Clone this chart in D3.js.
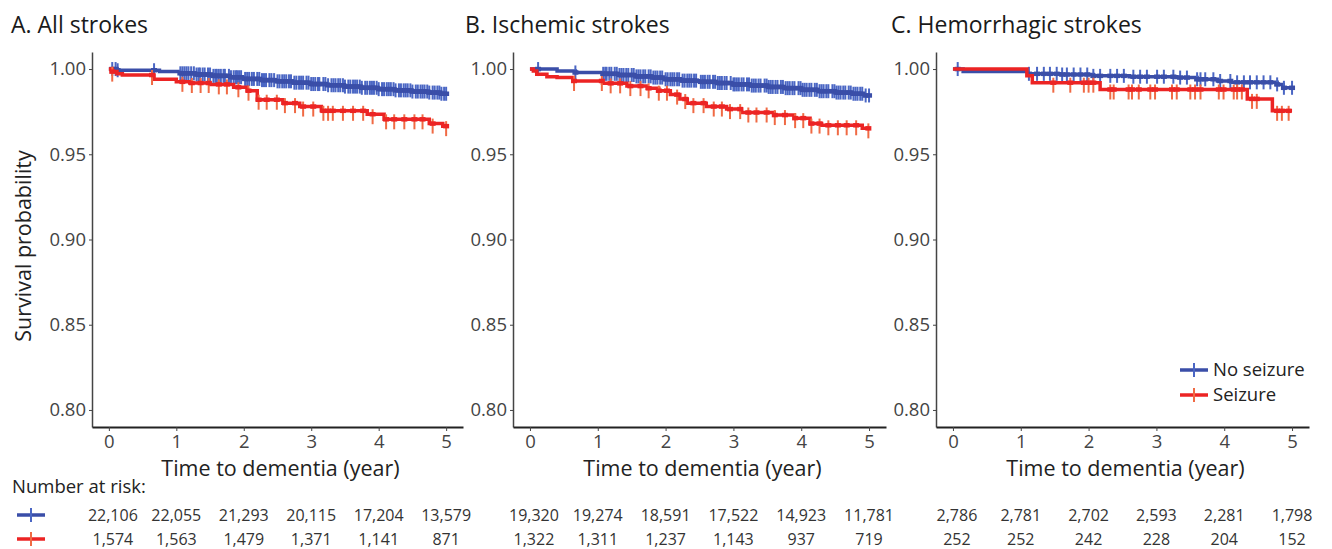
<!DOCTYPE html>
<html>
<head>
<meta charset="utf-8">
<script src="https://cdn.jsdelivr.net/npm/d3@7"></script>
<style>
  body { margin: 0; background: #fff; }
  svg { display: block; font-family: "Open Sans", "Noto Sans", sans-serif; }
</style>
</head>
<body>
<svg id="km" width="1332" height="549"></svg>
<script>
// panel titles and risk table
var panelTitles = ["A. All strokes", "B. Ischemic strokes", "C. Hemorrhagic strokes"];
var riskTimes = [0, 1, 2, 3, 4, 5];
var riskNoSeizure = [
  ["22,106", "22,055", "21,293", "20,115", "17,204", "13,579"],
  ["19,320", "19,274", "18,591", "17,522", "14,923", "11,781"],
  ["2,786", "2,781", "2,702", "2,593", "2,281", "1,798"]
];
var riskSeizure = [
  ["1,574", "1,563", "1,479", "1,371", "1,141", "871"],
  ["1,322", "1,311", "1,237", "1,143", "937", "719"],
  ["252", "252", "242", "228", "204", "152"]
];
var yTicks = [0.80, 0.85, 0.90, 0.95, 1.00];
var xTicks = [0, 1, 2, 3, 4, 5];

// KM steps [time, survival]
var noSeizureA = [[0,1],[0.12,0.9993],[0.75,0.9985],[1.05,0.9975],[1.3,0.9968],[1.55,0.996],[1.8,0.9952],[2.0,0.9942],[2.25,0.9935],[2.5,0.9928],[2.75,0.992],[3.0,0.9912],[3.25,0.9905],[3.5,0.9897],[3.75,0.989],[4.0,0.9882],[4.25,0.9875],[4.5,0.9868],[4.75,0.9862],[4.92,0.9855],[5,0.9855]];
var seizureA = [[0,1],[0.05,0.9985],[0.12,0.9972],[0.2,0.9965],[0.67,0.994],[1.0,0.9925],[1.2,0.9918],[1.5,0.991],[1.85,0.9893],[2.05,0.9873],[2.2,0.982],[2.58,0.98],[2.83,0.978],[3.15,0.9755],[3.83,0.9735],[4.08,0.9705],[4.75,0.968],[4.95,0.9665],[5,0.9665]];
var noSeizureB = [[0,1],[0.4,0.9988],[0.67,0.998],[1.08,0.9972],[1.3,0.9965],[1.55,0.9957],[1.8,0.995],[2.0,0.994],[2.25,0.9932],[2.5,0.9925],[2.75,0.9918],[3.0,0.991],[3.25,0.9903],[3.5,0.9895],[3.75,0.9888],[4.0,0.9878],[4.25,0.987],[4.5,0.9862],[4.75,0.9855],[4.92,0.9845],[5,0.9845]];
var seizureB = [[0,1],[0.05,0.9988],[0.1,0.997],[0.25,0.9955],[0.4,0.995],[0.64,0.993],[1.07,0.9916],[1.43,0.99],[1.73,0.9887],[1.9,0.9873],[2.07,0.985],[2.21,0.9824],[2.32,0.98],[2.6,0.978],[2.9,0.9765],[3.12,0.9745],[3.6,0.973],[3.9,0.9712],[4.13,0.968],[4.3,0.967],[4.9,0.9652],[5,0.9652]];
var noSeizureC = [[0,1],[0.15,0.9985],[1.1,0.9972],[1.6,0.9968],[2.07,0.996],[2.6,0.9955],[3.3,0.995],[3.6,0.994],[3.9,0.993],[4.1,0.9922],[4.78,0.991],[4.87,0.989],[5,0.989]];
var seizureC = [[0,1],[1.09,0.996],[1.17,0.992],[2.17,0.988],[4.34,0.9825],[4.71,0.9755],[5,0.9755]];

// censoring times
var censorNoSeizureA = [0.05,0.1,0.13,0.67,1.06,1.09,1.12,1.15,1.18,1.22,1.26,1.3,1.33,1.35,1.39,1.42,1.47,1.5,1.55,1.58,1.6,1.63,1.66,1.7,1.72,1.78,1.81,1.85,1.88,1.9,1.93,1.96,2.02,2.05,2.08,2.12,2.15,2.2,2.23,2.27,2.3,2.33,2.38,2.41,2.45,2.5,2.53,2.57,2.6,2.63,2.67,2.7,2.75,2.78,2.82,2.85,2.88,2.93,2.96,3.0,3.03,3.06,3.1,3.12,3.18,3.21,3.25,3.3,3.33,3.36,3.4,3.43,3.47,3.5,3.55,3.58,3.62,3.65,3.68,3.72,3.75,3.8,3.83,3.87,3.9,3.93,3.97,4.0,4.05,4.08,4.12,4.15,4.18,4.22,4.25,4.3,4.33,4.37,4.4,4.43,4.47,4.5,4.55,4.58,4.62,4.65,4.68,4.72,4.75,4.8,4.83,4.87,4.9,4.93,4.97,5.0];
var censorSeizureA = [0.05,0.64,1.09,1.23,1.36,1.48,1.63,1.75,1.92,2.07,2.22,2.34,2.49,2.61,2.76,2.88,3.03,3.18,3.25,3.32,3.47,3.62,3.77,3.91,4.11,4.23,4.38,4.53,4.65,4.8,5.0];
var censorNoSeizureB = [0.12,0.67,1.08,1.11,1.13,1.17,1.2,1.25,1.28,1.32,1.35,1.38,1.42,1.45,1.5,1.53,1.57,1.6,1.63,1.67,1.7,1.75,1.78,1.82,1.85,1.88,1.92,1.95,2.0,2.03,2.07,2.1,2.13,2.17,2.2,2.25,2.28,2.32,2.35,2.38,2.42,2.45,2.52,2.55,2.58,2.62,2.65,2.7,2.73,2.77,2.8,2.83,2.87,2.9,2.96,3.0,3.02,3.05,3.08,3.12,3.15,3.2,3.23,3.27,3.3,3.33,3.37,3.4,3.46,3.49,3.52,3.55,3.58,3.62,3.65,3.7,3.73,3.77,3.8,3.83,3.87,3.9,3.96,3.99,4.02,4.05,4.08,4.12,4.15,4.2,4.23,4.27,4.3,4.33,4.37,4.4,4.46,4.49,4.52,4.55,4.58,4.62,4.65,4.7,4.73,4.77,4.8,4.83,4.87,4.9,4.95,5.0];
var censorSeizureB = [0.65,1.06,1.19,1.33,1.48,1.63,1.75,1.9,2.02,2.17,2.29,2.41,2.56,2.71,2.83,2.95,3.1,3.22,3.34,3.49,3.61,3.76,3.91,4.03,4.15,4.27,4.4,4.54,4.67,4.81,4.99];
var censorNoSeizureC = [0.07,1.12,1.24,1.34,1.43,1.53,1.61,1.68,1.78,1.88,1.98,2.07,2.17,2.32,2.42,2.52,2.66,2.76,2.86,3.01,3.11,3.25,3.35,3.45,3.6,3.65,3.72,3.84,3.94,4.09,4.19,4.29,4.38,4.48,4.58,4.68,4.78,4.88,5.0];
var censorSeizureC = [1.48,1.73,1.93,2.0,2.07,2.32,2.37,2.59,2.64,2.74,2.91,2.98,3.23,3.3,3.5,3.57,3.65,3.92,3.99,4.14,4.19,4.26,4.41,4.48,4.78,4.85,4.95];

var panels = [
  {title: panelTitles[0], blue: noSeizureA, red: seizureA, cb: censorNoSeizureA, cr: censorSeizureA, x0: 92, x1: 463, tx: 11},
  {title: panelTitles[1], blue: noSeizureB, red: seizureB, cb: censorNoSeizureB, cr: censorSeizureB, x0: 513, x1: 886, tx: 465},
  {title: panelTitles[2], blue: noSeizureC, red: seizureC, cb: censorNoSeizureC, cr: censorSeizureC, x0: 936, x1: 1309, tx: 891}
];

var blueLine = "#3a4ea8", blueMark = "#4a66c4";
var redLine = "#ec2424", redMark = "#f06a44";
var svg = d3.select("#km");
var plotTop = 52, plotBottom = 427;

var y = d3.scaleLinear().domain([0.79, 1.01]).range([plotBottom, plotTop]);

function stepValue(steps, t) {
  var v = steps[0][1];
  for (var i = 0; i < steps.length; i++) {
    if (steps[i][0] <= t) v = steps[i][1];
  }
  return v;
}

panels.forEach(function(p, pi) {
  var x = d3.scaleLinear().domain([-0.25, 5.25]).range([p.x0, p.x1]);
  var g = svg.append("g");

  // title
  svg.append("text").attr("x", p.tx).attr("y", 33)
    .style("font-size", "23px").style("fill", "#1a1a1a").text(p.title);

  // y axis
  var ya = g.append("g").attr("transform", "translate(" + p.x0 + ",0)")
    .call(d3.axisLeft(y).tickValues(yTicks).tickFormat(d3.format(".2f")).tickSize(3).tickSizeOuter(0).tickPadding(3));
  ya.select(".domain").attr("stroke", "#444").attr("stroke-width", 1.5);
  ya.selectAll(".tick line").attr("stroke", "#444");
  ya.selectAll("text").style("font-size", "18.5px").style("fill", "#444").style("font-family", "Open Sans");

  // x axis
  var xa = g.append("g").attr("transform", "translate(0," + plotBottom + ")")
    .call(d3.axisBottom(x).tickValues(xTicks).tickFormat(d3.format("d")).tickSize(4).tickSizeOuter(0).tickPadding(4));
  xa.select(".domain").attr("stroke", "#222").attr("stroke-width", 2);
  xa.selectAll(".tick line").attr("stroke", "#444");
  xa.selectAll("text").style("font-size", "18.5px").style("fill", "#444").style("font-family", "Open Sans");

  // x title
  svg.append("text").attr("x", (p.x0 + p.x1) / 2 + 3).attr("y", 476)
    .attr("text-anchor", "middle").style("font-size", "21.5px").style("fill", "#222")
    .text("Time to dementia (year)");

  var line = d3.line().x(function(d) { return x(d[0]); }).y(function(d) { return y(d[1]); })
    .curve(d3.curveStepAfter);

  [[p.blue, p.cb, blueLine, blueMark, -7, 7], [p.red, p.cr, redLine, redMark, -5, 10]].forEach(function(s) {
    g.append("path").datum(s[0]).attr("d", line)
      .attr("fill", "none").attr("stroke", s[2]).attr("stroke-width", 3.5);
    g.selectAll(null).data(s[1]).enter().append("line")
      .attr("x1", function(d) { return x(d); }).attr("x2", function(d) { return x(d); })
      .attr("y1", function(d) { return y(stepValue(s[0], d)) + s[4]; })
      .attr("y2", function(d) { return y(stepValue(s[0], d)) + s[5]; })
      .attr("stroke", s[3]).attr("stroke-width", 2);
    // small horizontal bar of each "+" mark
    g.selectAll(null).data(s[1]).enter().append("line")
      .attr("x1", function(d) { return x(d) - 3; }).attr("x2", function(d) { return x(d) + 3; })
      .attr("y1", function(d) { return y(stepValue(s[0], d)); })
      .attr("y2", function(d) { return y(stepValue(s[0], d)); })
      .attr("stroke", s[2]).attr("stroke-width", 4.5);
  });

  // risk table numbers
  riskTimes.forEach(function(t, i) {
    svg.append("text").attr("x", x(t) + (i == 0 ? 4 : 0)).attr("y", 521)
      .attr("text-anchor", "middle").style("font-size", "16px").style("fill", "#333")
      .text(riskNoSeizure[pi][i]);
    svg.append("text").attr("x", x(t) + (i == 0 ? 4 : 0)).attr("y", 545)
      .attr("text-anchor", "middle").style("font-size", "16px").style("fill", "#333")
      .text(riskSeizure[pi][i]);
  });
});

// y label
svg.append("text").attr("transform", "translate(31,246) rotate(-90)")
  .attr("text-anchor", "middle").style("font-size", "21.5px").style("fill", "#222")
  .text("Survival probability");

// number at risk
svg.append("text").attr("x", 12).attr("y", 493).style("font-size", "18.5px").style("fill", "#222")
  .text("Number at risk:");

function key(cx, cy, lc, mc) {
  svg.append("line").attr("x1", cx - 14).attr("x2", cx + 14).attr("y1", cy).attr("y2", cy)
    .attr("stroke", lc).attr("stroke-width", 3.5);
  svg.append("line").attr("x1", cx).attr("x2", cx).attr("y1", cy - 7).attr("y2", cy + 7)
    .attr("stroke", mc).attr("stroke-width", 2);
}
key(31, 515, blueLine, blueMark);
key(31, 539, redLine, redMark);

// legend
var legendItems = ["No seizure", "Seizure"];
legendItems.forEach(function(name, i) {
  var cy = 370 + i * 25;
  key(1194, cy, i == 0 ? blueLine : redLine, i == 0 ? blueMark : redMark);
  svg.append("text").attr("x", 1213).attr("y", cy + 6).style("font-size", "18.5px").style("fill", "#222").text(name);
});
</script>
</body>
</html>
